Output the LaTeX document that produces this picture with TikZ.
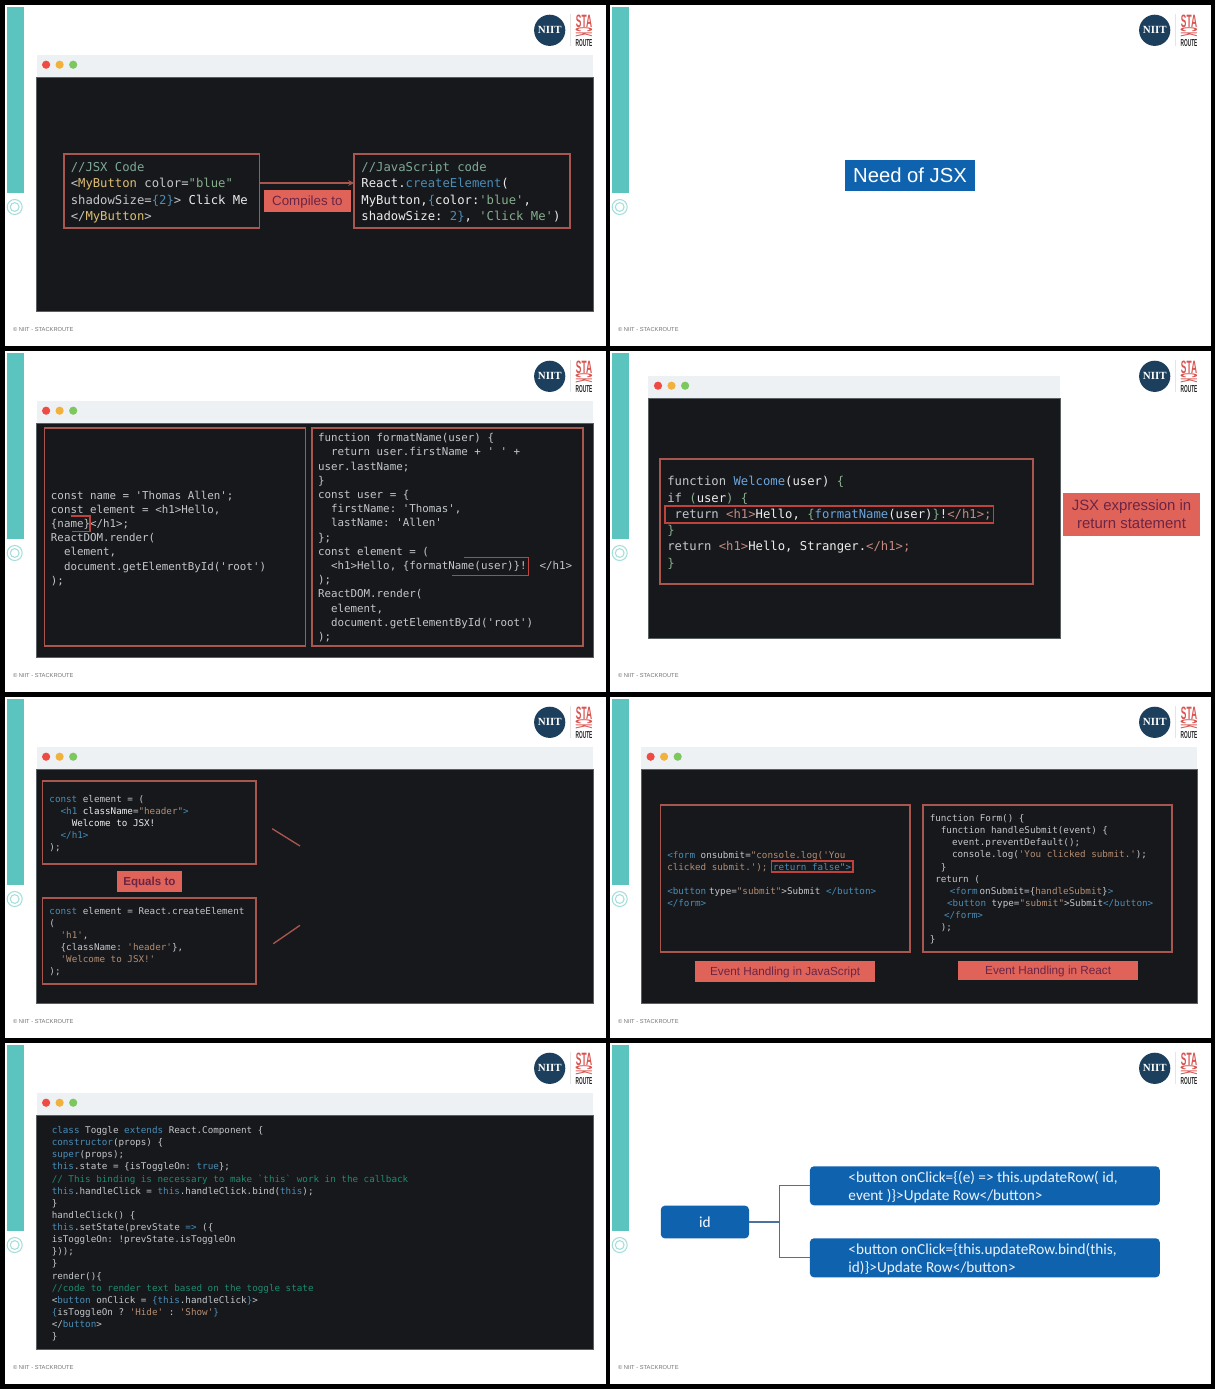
\documentclass[tikz,border=0pt]{standalone}
\usepackage{fontspec}
\setmainfont{Liberation Sans}
\setmonofont{DejaVu Sans Mono}
\newfontfamily\calibrilike{Carlito}
\newfontfamily\logoserif{Liberation Serif}

\definecolor{sidebarteal}{HTML}{5BC4BF}
\definecolor{ringteal}{HTML}{A5DEDB}
\definecolor{logonavy}{HTML}{1B3F5C}
\definecolor{logored}{HTML}{D9534F}
\definecolor{barlight}{HTML}{EEF1F4}
\definecolor{windark}{HTML}{16181B}
\definecolor{winedge}{HTML}{5A5F64}
\definecolor{boxred}{HTML}{A9564F}
\definecolor{hotred}{HTML}{C0423C}
\definecolor{tagred}{HTML}{E0635A}
\definecolor{tagink}{HTML}{6B2545}
\definecolor{deepblue}{HTML}{0F62AE}
\definecolor{treeblue}{HTML}{4A729C}
\definecolor{dotred}{HTML}{EE4B44}
\definecolor{dotyellow}{HTML}{F0B23C}
\definecolor{dotgreen}{HTML}{7DC75F}
\definecolor{codeplain}{HTML}{C4C7CA}
\definecolor{codebrt}{HTML}{EDEDED}
\definecolor{codeblue}{HTML}{4A8DB8}
\definecolor{codesky}{HTML}{6AA5DE}
\definecolor{codegreen}{HTML}{86AE8C}
\definecolor{codecomm}{HTML}{7FA896}
\definecolor{codeteal}{HTML}{1F8A70}
\definecolor{codeyel}{HTML}{DDBE72}
\definecolor{codebrown}{HTML}{B58D72}
\definecolor{codepink}{HTML}{C58A80}

\newcommand{\kwd}[1]{\textcolor{codeblue}{#1}}
\newcommand{\fnm}[1]{\textcolor{codesky}{#1}}
\newcommand{\qstr}[1]{\textcolor{codegreen}{#1}}
\newcommand{\brn}[1]{\textcolor{codebrown}{#1}}
\newcommand{\cmm}[1]{\textcolor{codecomm}{#1}}
\newcommand{\tcm}[1]{\textcolor{codeteal}{#1}}
\newcommand{\yel}[1]{\textcolor{codeyel}{#1}}
\newcommand{\wht}[1]{\textcolor{codebrt}{#1}}
\newcommand{\pnk}[1]{\textcolor{codepink}{#1}}

\tikzset{
  redbox/.style={draw=boxred,line width=1.3pt,inner sep=0pt,outer sep=0pt,anchor=north west},
  wh/.style 2 args={minimum width=#1*0.75pt,minimum height=#2*0.75pt},
  hotline/.style={draw=hotred,line width=1.2pt},
  redline/.style={draw=boxred,line width=1pt},
  codea/.style={anchor=north west,inner sep=0pt,align=left,text=codeplain,font=\fontsize{9.18}{12.2}\selectfont\ttfamily},
  codeb/.style={anchor=north west,inner sep=0pt,align=left,text=codeplain,font=\fontsize{8.12}{10.65}\selectfont\ttfamily},
  codec/.style={anchor=north west,inner sep=0pt,align=left,text=codeplain,font=\fontsize{6.94}{9.1}\selectfont\ttfamily},
  tagbox/.style={fill=tagred,text=tagink,inner sep=0pt,outer sep=0pt,anchor=north west,align=center,text depth=0pt},
  bluebox/.style={fill=deepblue,rounded corners=3pt,inner sep=0pt,outer sep=0pt,anchor=north west},
  bluetext/.style={anchor=north west,inner sep=0pt,align=left,text=white!92!deepblue,font=\fontsize{11.45}{13.7}\selectfont\calibrilike},
  treeline/.style={draw=treeblue,line width=0.8pt}
}

\begin{document}
\begin{tikzpicture}[x=0.75pt,y=0.75pt,yscale=-1,xscale=1]
\path [use as bounding box] (0,0) rectangle (1215,1389);
\fill [black] (0,0) rectangle (1215,1389);

% slide frames: page, side bar, ring, logo, footer
\foreach \ox/\oy/\sid in {0/0/a,605/0/b,0/346/c,605/346/d,0/692/e,605/692/f,0/1038/g,605/1038/h}{
\begin{scope}[shift={(\ox,\oy)}]
%Shape: Rectangle
\fill [white] (5.3,5) rectangle (606,345.8);
\fill [sidebarteal] (6.6,7) rectangle (24.4,193);
%Shape: Circle
\draw [ringteal,line width=0.8pt] (14.7,207) circle [radius=7.5];
\draw [ringteal,line width=0.8pt] (14.7,207) circle [radius=4.4];
\draw [black!10,line width=0.5pt] (570,14) -- (570,46);
% Text Node
\node (niit\sid) [circle,fill=logonavy,minimum size=23.4pt,inner sep=0pt,text=white,font=\fontsize{8.2}{9}\selectfont\logoserif\bfseries] at (549.7,30.3) {NIIT};
\node (sta\sid) [inner sep=0pt,text=logored,font=\fontsize{13.4}{14}\selectfont\bfseries] at (584,21) {\scalebox{.47}[1]{STA}};
\node (ck\sid) [inner sep=0pt,text=logored,rotate=-90,font=\fontsize{8}{9}\selectfont\bfseries] at (584,32.3) {\scalebox{.58}[2.2]{CK}};
\node (route\sid) [inner sep=0pt,text=black!85,font=\fontsize{7.6}{8}\selectfont\bfseries] at (584,42.6) {\scalebox{.47}[1]{ROUTE}};
\node (foot\sid) [anchor=west,inner sep=0pt,text=black!55,font=\fontsize{4.3}{5}\selectfont] at (12.8,329.3) {© NIIT - STACKROUTE};
\end{scope}
}

% code windows
\foreach \wl/\wt/\wm/\wr/\wb in {36.5/55/77/593/311,36.5/401/423/593/657,648.4/376/398/1060/638,36.5/747/769/593/1003,641/747/769/1197.4/1003,36.5/1093/1115/593/1349}{
%Shape: Rectangle
\fill [barlight] (\wl,\wt) rectangle (\wr,\wm);
\draw [winedge,line width=0.4pt,fill=windark] (\wl,\wm) rectangle (\wr,\wb);
\fill [dotred] ({\wl+9.6},{\wt+9.7}) circle [radius=4.1];
\fill [dotyellow] ({\wl+23.1},{\wt+9.7}) circle [radius=4.1];
\fill [dotgreen] ({\wl+36.7},{\wt+9.7}) circle [radius=4.1];
}

% slide 1
\node (jsxbox) [redbox,wh={195.5}{74.6}] at (63.9,153.7) {};
\node (jsbox) [redbox,wh={216.1}{74.6}] at (354.2,153.7) {};
\draw [redline,-stealth] ([yshift=-6pt]jsxbox.east) -- ([yshift=-6pt]jsbox.west);
% Text Node
\node (jsxcode) [codea] at (70.5,160) {\strut\cmm{//JSX Code}\\
<\yel{MyButton} color=\qstr{"blue"}\\
shadowSize=\kwd{\{2\}}> \wht{Click Me}\\
</\yel{MyButton}>};
% Text Node
\node (jscode) [codea] at (361.2,160) {\strut\cmm{//JavaScript code}\\
\wht{React.}\kwd{createElement}\wht{(}\\
\wht{MyButton,}\kwd{\{}\wht{color:}\qstr{'blue'}\wht{,}\\
\wht{shadowSize: }\kwd{2\}}\wht{, }\qstr{'Click Me'}\wht{)}};
\node (compiles) [tagbox,wh={86.8}{21.7},font=\fontsize{10}{12}\selectfont] at (264,190) {Compiles to};

% slide 2
\node (needjsx) [fill=deepblue,text=white,wh={130}{31},inner sep=0pt,font=\fontsize{15.2}{17}\selectfont] at (910,175.5) {Need of JSX};

% slide 3
\node (namebox) [redbox,wh={261}{218.3}] at (44.5,428) {};
\node (fmtbox) [redbox,wh={270.7}{218.3}] at (312,428) {};
% Text Node
\node (namecode) [codeb] at (50.7,488.9) {\strut const name = 'Thomas Allen';\\
const element = <h1>Hello,\\
\{name\}</h1>;\\
ReactDOM.render(\\
~~element,\\
~~document.getElementById('root')\\
);};
% Text Node
\node (fmtcode) [codeb] at (317.8,431.5) {\strut function formatName(user) \{\\
~~return user.firstName + ' ' +\\
user.lastName;\\
\}\\
const user = \{\\
~~firstName: 'Thomas',\\
~~lastName: 'Allen'\\
\};\\
const element = (\\
~~<h1>Hello, \{formatName(user)\}!~~</h1>\\
);\\
ReactDOM.render(\\
~~element,\\
~~document.getElementById('root')\\
);};
%Shape: open highlight marks
\draw [hotline] (70.5,516) -- (90.2,516) -- (90.2,531.3) -- (71.5,531.3);
\draw [hotline] (463.8,557.3) -- (528.5,557.3) -- (528.5,575.3) -- (452,575.3);

% slide 4
\node (welcomebox) [redbox,wh={373.2}{124.7}] at (660,459.3) {};
\node (returnbox) [redbox,draw=hotred,wh={328.4}{17.6}] at (665,505.7) {};
% Text Node
\node (welcomecode) [codea] at (667,474.2) {\strut function \fnm{Welcome}\wht{(user)} \qstr{\{}\\
if \qstr{(}\wht{user}\qstr{)} \qstr{\{}\\
~return \pnk{<h1>}\wht{Hello, }\qstr{\{}\fnm{formatName}\wht{(user)}\qstr{\}}\wht{!}\pnk{</h1>;}\\
\qstr{\}}\\
return \pnk{<h1>}\wht{Hello, Stranger.}\pnk{</h1>;}\\
\qstr{\}}};
\node (returntag) [tagbox,wh={136.3}{43},font=\fontsize{11.2}{13.5}\selectfont] at (1063.4,493) {JSX expression in\\return statement};

% slide 5
\node (jsxhead) [redbox,wh={213.7}{82.7}] at (42.6,781) {};
\node (elemhead) [redbox,wh={213.7}{85.7}] at (42.6,898) {};
% Text Node
\node (jsxheadcode) [codec] at (49.2,793.4) {\strut \kwd{const} element = (\\
~~\kwd{<h1} \wht{className}=\brn{"header"}\kwd{>}\\
~~~~\wht{Welcome to JSX!}\\
~~\kwd{</h1>}\\
);};
% Text Node
\node (elemheadcode) [codec] at (49.2,905.4) {\strut \kwd{const} element = React.createElement\\
(\\
~~\brn{'h1'},\\
~~\{className: \brn{'header'}\},\\
~~\brn{'Welcome to JSX!'}\\
);};
\node (equals) [tagbox,wh={65.8}{21},font=\fontsize{8.7}{10}\selectfont\bfseries] at (116.5,871) {Equals to};
\coordinate (strokeaa) at (272.2,828.7);
\coordinate (strokeab) at (300,846);
\coordinate (strokeba) at (273.3,943.7);
\coordinate (strokebb) at (300,925.3);
\draw [redline] (strokeaa) -- (strokeab);
\draw [redline] (strokeba) -- (strokebb);

% slide 6
\node (jsform) [redbox,wh={249.3}{147.6}] at (660.4,804.7) {};
\node (reactform) [redbox,wh={248.8}{147.6}] at (923,804.7) {};
\node (falsebox) [redbox,draw=hotred,wh={81.7}{11}] at (771.5,861.3) {};
% Text Node
\node (jsformcode) [codec] at (667,849.4) {\strut \kwd{<form} onsubmit=\brn{"console.log('You}\\
\brn{clicked submit.');} \kwd{return false}\brn{"}\kwd{>}\\
\\
\kwd{<button}\hspace{2.1pt}type=\brn{"submit"}>Submit \kwd{</button>}\\
\kwd{</form>}};
% Text Node
\node (reactformcode) [codec] at (929.5,812.7) {\strut function Form() \{\\
~~function handleSubmit(event) \{\\
~~~~event.preventDefault();\\
~~~~console.log(\brn{'You clicked submit.'});\\
~~\}\\
~return (\\
\hspace*{15pt}\kwd{<form}\hspace{1.5pt}onSubmit=\{\brn{handleSubmit}\}\kwd{>}\\
\hspace*{13pt}\kwd{<button} type=\brn{"submit"}>Submit\kwd{</button>}\\
\hspace*{10.7pt}\kwd{</form>}\\
~~);\\
\}};
\node (jstag) [tagbox,wh={179.6}{20.4},font=\fontsize{8.8}{10}\selectfont] at (695.3,961.3) {Event Handling in JavaScript};
\node (reacttag) [tagbox,wh={180.1}{19.6},font=\fontsize{8.8}{10}\selectfont] at (958.1,960.7) {Event Handling in React};

% slide 7
\node (togglecode) [codec] at (51.5,1124.7) {\strut \kwd{class} Toggle \kwd{extends} React.Component \{\\
\kwd{constructor}(props) \{\\
\kwd{super}(props);\\
\kwd{this}.state = \{isToggleOn: \kwd{true}\};\\
\tcm{// This binding is necessary to make `this` work in the callback}\\
\kwd{this}.handleClick = \kwd{this}.handleClick.bind(\kwd{this});\\
\}\\
handleClick() \{\\
\kwd{this}.setState(prevState \kwd{=>} (\{\\
isToggleOn: !prevState.isToggleOn\\
\}));\\
\}\\
render()\{\\
\tcm{//code to render text based on the toggle state}\\
<\kwd{button} onClick = \kwd{\{this}.handleClick\kwd{\}}>\\
\kwd{\{}isToggleOn ? \brn{'Hide'} : \brn{'Show'}\kwd{\}}\\
</\kwd{button}>\\
\}};

% slide 8
\node (idbox) [bluebox,wh={88.2}{32.6},text=white,font=\fontsize{11.5}{13}\selectfont\calibrilike] at (660.8,1205.7) {id};
\node (rowa) [bluebox,wh={349.9}{39}] at (809.9,1166.3) {};
\node (rowb) [bluebox,wh={349.9}{39}] at (809.9,1238.3) {};
\draw [treeline] (idbox.east) -- ++(30.3,0) coordinate (forkpt);
\draw [treeline] (forkpt) |- (rowa.west);
\draw [treeline] (forkpt) |- (rowb.west);
% Text Node
\node (rowatext) [bluetext] at (848.2,1169.6) {\strut <button onClick=\{(e) => this.updateRow( id,\\event )\}>Update Row</button>};
% Text Node
\node (rowbtext) [bluetext] at (848.2,1241.6) {\strut <button onClick=\{this.updateRow.bind(this,\\id)\}>Update Row</button>};

\end{tikzpicture}
\end{document}
